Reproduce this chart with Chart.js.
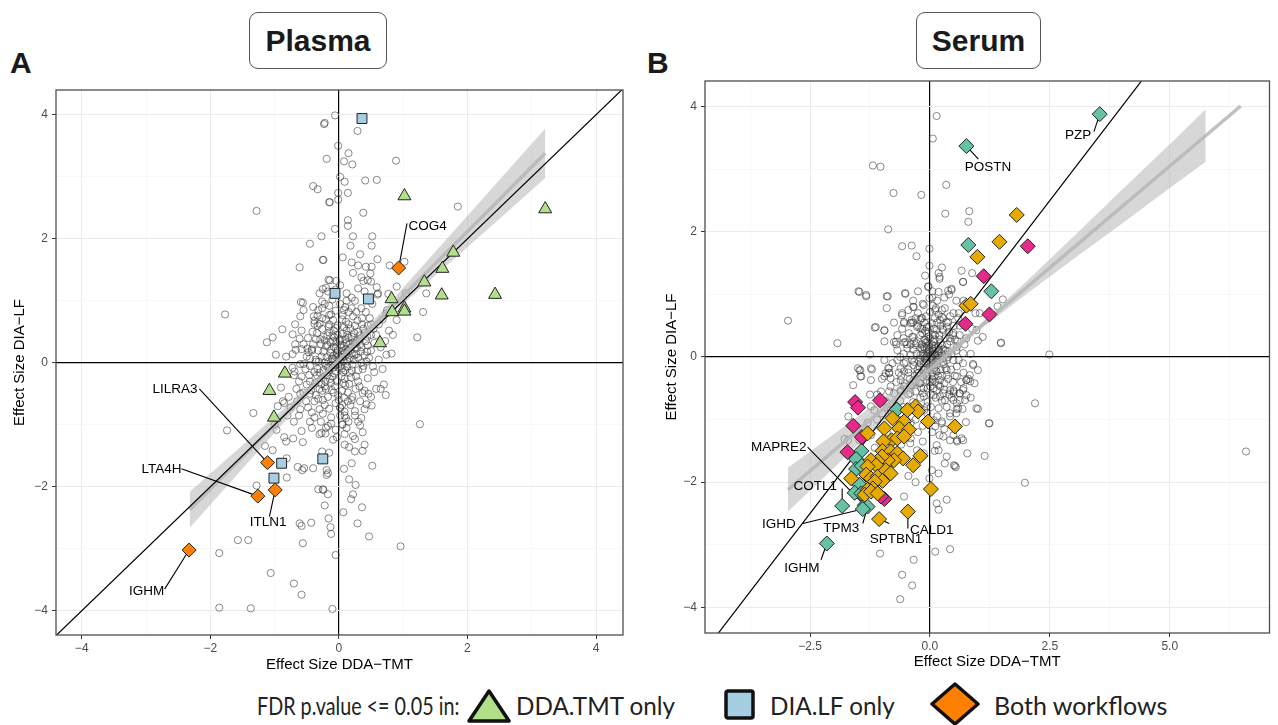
<!DOCTYPE html>
<html>
<head>
<meta charset="utf-8">
<script src="https://cdn.jsdelivr.net/npm/chart.js"></script>
<style>
  html, body { margin: 0; padding: 0; background: #fff; }
  body { width: 1278px; height: 725px; position: relative; overflow: hidden; font-family: "Liberation Sans", Arial, sans-serif; }
  canvas { position: absolute; }
  .tag { position: absolute; font-weight: bold; font-size: 30px; color: #1a1a1a; }
  .box { position: absolute; border: 1px solid #555; border-radius: 9px; font-weight: bold; font-size: 30px; color: #1a1a1a;
         display: flex; align-items: center; justify-content: center; box-sizing: border-box; background: #fff; }
  .leg { position: absolute; font-family: Lato, "Open Sans", sans-serif; font-size: 25px; color: #222; top: 690px; line-height: 30px;
         white-space: nowrap; transform-origin: 0 50%; }
  svg { position: absolute; }
</style>
</head>
<body>
<div class="tag" style="left:10px; top:46px;">A</div>
<div class="tag" style="left:647px; top:46px;">B</div>
<div class="box" style="left:249px; top:12px; width:138px; height:57px;">Plasma</div>
<div class="box" style="left:916px; top:12px; width:125px; height:57px;">Serum</div>

<canvas id="plasma" width="640" height="680" style="left:0; top:0;"></canvas>
<canvas id="serum" width="638" height="680" style="left:640px; top:0;"></canvas>

<div class="leg" style="left:257px; transform: scaleX(0.79);">FDR p.value &lt;= 0.05 in:</div>
<svg width="46" height="36" style="left:466px; top:688px;"><polygon points="23,3 43,33 3,33" fill="#B2DF8A" stroke="#111" stroke-width="3.5" stroke-linejoin="round"/></svg>
<div class="leg" style="left:516px; transform: scaleX(0.97);">DDA.TMT only</div>
<svg width="32" height="32" style="left:724px; top:689px;"><rect x="2" y="2" width="27" height="27" rx="2" fill="#A6CEE3" stroke="#111" stroke-width="3.5"/></svg>
<div class="leg" style="left:770px; transform: scaleX(0.97);">DIA.LF only</div>
<svg width="54" height="46" style="left:928px; top:681px;"><polygon points="27,3 50,23 27,43 4,23" fill="#FF7F00" stroke="#111" stroke-width="3.5" stroke-linejoin="round"/></svg>
<div class="leg" style="left:994px;">Both workflows</div>

<script>
// ---------- Plasma (panel A) ----------
const plasmaGrey = [
  [-0.23,3.85],[-0.19,3.29],[-0.40,2.85],[-0.33,2.80],[-1.28,2.45],[-0.15,2.59],[-0.27,2.04],[-0.45,1.92],[-0.25,1.66],[-0.61,1.54],
  [-0.16,1.34],[-0.25,1.19],[-0.20,1.21],[-0.59,0.98],[-0.56,0.97],[-0.26,0.99],[-0.26,0.88],[-1.77,0.78],[-0.39,0.75],[-0.33,0.76],
  [-0.38,0.63],[-0.30,0.63],[-0.15,0.77],[-0.88,0.54],[-0.72,0.46],[-0.61,0.39],[-1.12,0.33],[-1.03,0.41],[-0.98,0.13],[-0.72,0.14],
  [-0.67,0.21],[-0.58,0.22],[-0.49,0.23],[-0.42,0.20],[-0.60,-0.02],[-0.55,-0.02],[-0.69,-0.14],
  [-1.33,-0.81],[-1.74,-1.09],[-0.87,-0.62],[-0.97,-1.08],[-1.15,-1.34],[-1.03,-1.41],[-0.82,-1.27],[-0.71,-1.22],[-0.56,-1.28],
  [-1.28,-1.98],[-0.61,-2.59],[-0.58,-2.63],[-0.43,-2.58],[-1.57,-2.86],[-1.41,-2.86],[-1.86,-3.07],[-0.56,-2.91],[-1.06,-3.39],
  [-0.70,-3.56],[-0.58,-3.74],[-1.86,-3.95],[-1.37,-3.96],[-0.81,-1.54],[-0.64,-1.68],[-0.54,-1.70],[-0.40,-1.70],[-0.17,-1.78],
  [-0.22,-2.30],[-0.32,-2.04],[-0.25,-2.04],[-0.17,-2.12],[-0.81,-1.85],[-0.57,-1.73],
  [1.26,-0.99],[0.65,-0.42],[0.73,-0.52],[0.51,-0.69],[0.43,-0.67],[0.37,-0.49],[0.46,-0.50],[0.35,-0.89],[0.33,-1.01],[0.37,-1.12],
  [0.40,-1.32],[0.37,-1.42],[0.25,-1.23],[0.09,-1.15],[0.09,-1.32],[0.16,-1.36],[0.25,-1.43],[0.20,-1.62],[0.08,-1.71],[0.52,-1.66],
  [0.16,-1.88],[0.26,-1.97],[0.22,-2.12],[0.19,-2.20],[0.36,-2.33],[0.07,-2.41],[0.29,-2.59],[0.47,-2.80],[0.96,-2.96],[-0.05,-3.10],
  [-0.10,-3.97],[-0.12,-2.76],[-0.13,-2.65],[-0.16,-2.51],[-0.19,-1.81],[-0.19,-1.73],[-0.24,-2.05],[-0.15,-1.45],[-0.17,-1.02],
  [-0.27,-1.13],[-0.21,-1.14],[-0.09,-1.24],[-0.26,-1.43],[0.09,-0.85],[0.11,-0.89],[0.06,-0.99],[0.02,-0.73],
  [-0.06,3.99],[-0.22,3.87],[0.29,3.74],[-0.01,3.50],[0.08,3.25],[0.21,3.20],[0.15,3.38],[0.89,3.26],[0.02,3.00],[0.09,2.92],
  [0.41,2.94],[0.59,2.95],[-0.01,2.74],[0.14,2.74],[-0.14,2.59],[-0.01,2.63],[1.85,2.52],[0.38,2.42],[0.14,2.30],[0.14,2.21],
  [-0.06,2.16],[0.22,2.04],[0.52,2.04],[0.51,1.89],[0.18,1.89],[0.33,1.75],[0.06,1.70],[-0.24,1.66],[0.20,1.62],[0.30,1.57],
  [0.42,1.55],[0.51,1.55],[0.60,1.67],[0.79,1.57],[1.02,1.63],[0.49,1.44],[0.35,1.38],[0.22,1.45],[-0.14,1.33],[-0.04,1.32],
  [0.38,1.32],[0.45,1.33],[0.50,1.31],[0.59,1.22],[0.61,1.12],[0.77,1.11],[0.90,1.23],[1.04,1.12],[1.36,1.12],[1.31,0.82],
  [1.22,0.41],[0.84,0.45],[0.90,0.69],[0.74,0.80],[0.74,0.13],[0.53,-0.06],[0.43,0.02],
  [0.02,0.05],[-0.06,-0.03],[0.09,0.10],[-0.11,0.07],[0.05,-0.09],[-0.03,0.16],[0.14,0.02],[-0.15,-0.12],[0.11,0.22],[-0.08,0.26],
  [0.20,0.15],[-0.20,-0.05],[0.04,-0.22],[-0.13,0.33],[0.25,0.30],[-0.24,0.18],[0.17,-0.16],[-0.27,-0.25],[0.01,0.36],[0.30,0.08],
  [-0.33,-0.10],[0.07,-0.33],[-0.06,-0.38],[0.20,0.42],[-0.18,0.44],[0.35,0.25],[-0.36,0.05],[0.27,-0.22],[-0.30,-0.42],[0.12,0.52],
  [-0.02,0.60],[0.30,0.50],[-0.26,0.55],[0.42,0.35],[-0.45,-0.30],[0.14,-0.48],[-0.17,-0.55],[0.38,-0.05],[-0.42,0.22],[0.05,0.70],
  [-0.12,0.78],[0.22,0.75],[0.45,0.60],[-0.38,0.68],[0.50,0.20],[-0.52,-0.10],[0.32,-0.38],[-0.05,-0.65],[-0.38,-0.62],[0.18,-0.68],
  [-0.55,-0.48],[0.58,0.45],[0.10,0.90],[-0.22,0.95],[0.35,0.88],[-0.48,0.40],[0.62,0.05],[-0.62,-0.30],[0.45,-0.25],[-0.25,-0.82],
  [0.02,-0.85],[-0.60,-0.75],[-0.78,-0.55],[0.25,-0.85],[0.50,-0.55],[-0.10,1.02],[0.20,1.05],[0.52,0.95],[-0.40,0.90],[0.68,0.70],
  [-0.68,0.30],[0.72,0.35],[-0.72,-0.08],[-0.45,-0.95],[-0.12,-0.98],[0.12,-1.05],[-0.80,-0.85],[-0.95,-0.70],[0.40,-0.75],[0.70,-0.35],
  [-0.30,1.12],[0.02,1.25],[0.30,1.20],[-0.55,0.85],[0.60,1.10],[-0.82,0.10],[-0.90,-0.40],[0.82,0.15],[-0.58,-1.10],[-0.30,-1.15],
  [-0.03,-1.20],[0.22,-1.18],[-1.00,-1.00],[-0.85,-1.20],[-0.08,0.12],[0.07,-0.15],[-0.16,0.02],[0.16,0.30],[-0.21,-0.30],[0.00,-0.02],
  [0.10,0.38],[-0.10,-0.22],[0.23,0.05],[-0.02,0.45],[-0.28,0.30],[0.33,0.38],[-0.34,-0.20],[0.08,-0.56],[-0.22,-0.68],[0.25,0.60],
  [-0.08,0.52],[0.40,0.12],[-0.45,-0.05],[0.55,0.32],[-0.50,0.10],[0.15,0.62],[-0.15,0.62],[0.30,-0.12],[-0.36,-0.52],[-0.65,-0.62],
  [0.48,0.72],[0.15,0.82],[-0.28,-0.95],[-0.70,-0.95],[0.05,-0.68],
  [-0.04,0.09],[0.06,0.19],[-0.09,-0.08],[0.13,-0.06],[-0.19,0.09],[0.19,0.25],[-0.14,-0.26],[0.03,0.29],[-0.24,-0.12],[0.09,-0.26],
  [-0.07,0.41],[0.27,0.14],[-0.31,0.02],[0.16,-0.34],[-0.20,0.27],[0.34,0.18],[-0.11,-0.44],[0.24,0.48],[-0.29,0.38],[0.06,0.47],
  [-0.37,-0.33],[0.37,-0.10],[-0.01,-0.52],[0.21,-0.55],[-0.25,-0.60],[0.11,0.66],[-0.09,0.69],[0.29,0.68],[-0.33,0.60],[0.40,0.48],
  [-0.47,0.17],[0.47,0.08],[-0.43,-0.44],[0.33,-0.62],[-0.15,-0.74],[0.09,-0.79],[-0.51,-0.62],[0.54,0.55],[-0.05,0.84],[0.20,0.88],
  [-0.32,0.85],[0.42,0.82],[-0.58,0.52],[0.62,0.62],[-0.66,-0.42],[0.58,-0.42],[-0.38,-0.88],[0.30,-0.95],[-0.05,-1.08],[0.12,1.12],
  [-0.17,1.15],[0.40,1.15],[-0.75,-0.72],[-0.68,0.62],[0.78,0.52],[-0.10,0.06],[0.00,0.12],[0.07,0.03],[-0.05,-0.14],[0.12,0.14],
  [-0.18,-0.20],[0.21,-0.03],[-0.12,0.21],[0.04,0.24],[-0.27,0.10],[0.28,0.36],[-0.22,0.36],[0.15,0.40],[-0.04,0.33],[0.10,-0.12],
  [-0.15,0.49],[0.35,0.00],[-0.38,-0.15],[0.19,-0.24],[-0.03,-0.30],[0.05,-0.45],[-0.26,-0.45],[0.26,-0.42],[-0.46,-0.20],[0.45,0.28],
  [0.12,0.32],[-0.32,0.20],[0.08,0.58],[-0.20,0.70],[0.36,0.62],[-0.41,0.50],[0.50,0.45],[0.02,0.95],[-0.45,0.07],[-0.58,-0.22],
  [0.55,-0.15],[-0.22,-0.38],[0.00,-0.60],[-0.48,-0.72],[0.20,-0.60],[-0.30,-0.75],[0.40,-0.45],[-0.12,-0.88],[-0.62,-0.85],[0.15,-0.95],
  [-0.70,-0.20],[0.65,0.25],[0.25,1.00],[-0.05,1.18],[-0.42,-1.05],[-0.20,-1.05],[0.05,-1.00],[-0.85,-0.65],[0.75,0.85],[-0.60,0.75],
  [0.68,-0.10],
  [-0.02,0.20],[0.08,0.27],[-0.13,0.16],[0.17,0.08],[-0.07,-0.17],[0.03,-0.06],[-0.18,0.29],[0.22,0.33],[-0.09,0.35],[0.13,0.45],
  [-0.24,0.42],[0.28,0.24],[-0.30,-0.16],[0.20,-0.12],[-0.12,-0.32],[0.10,-0.36],[-0.20,-0.42],[0.32,0.44],[-0.04,0.56],[0.18,0.55],
  [-0.34,0.48],[0.38,0.55],[-0.16,0.58],[0.06,0.77],[-0.26,0.72],[0.27,0.82],[-0.08,-0.48],[0.14,-0.62],[-0.32,-0.58],[0.30,-0.30],
  [-0.40,0.30],[0.44,0.18],[-0.50,-0.35],[0.50,0.62],[-0.15,0.92],[0.12,1.00],[-0.60,-0.50],[0.02,-0.72],[-0.42,-0.80],[0.25,-0.78],
  [-0.07,0.04],[0.05,0.09],[-0.01,-0.06],[0.15,0.20],[-0.17,-0.07],[0.09,0.16],[-0.05,0.24],[0.24,0.12],[-0.22,0.00],[0.02,0.38],
  [-0.36,0.38],[0.44,0.42],[-0.10,0.44],[0.33,0.30],[-0.27,-0.34],[-0.45,-0.50],[0.36,0.72],[-0.35,0.02],[0.08,0.85],[-0.55,0.30]
];
const plasmaTMTonly = [[1.02,2.69],[3.21,2.48],[1.78,1.78],[1.61,1.52],[1.33,1.30],[1.60,1.09],[2.43,1.10],[0.82,1.03],
  [0.83,0.82],[1.02,0.88],[1.02,0.83],[0.64,0.32],[-0.84,-0.17],[-1.08,-0.45],[-1.01,-0.88]];
const plasmaLFonly = [[0.36,3.94],[-0.06,1.12],[0.46,1.03],[-0.89,-1.62],[-1.01,-1.86],[-0.25,-1.55]];
const plasmaBoth = [[0.93,1.53],[-1.11,-1.61],[-1.26,-2.15],[-0.99,-2.05],[-2.33,-3.02]];
const plasmaLabelNames = ["COG4", "LILRA3", "LTA4H", "ITLN1", "IGHM"];
const plasmaLabelText = [[1.38,2.21],[-2.55,-0.42],[-2.76,-1.71],[-1.10,-2.57],[-2.99,-3.68]];
const plasmaLabelFrom = [[1.06,2.25],[-2.17,-0.42],[-2.45,-1.71],[-1.08,-2.48],[-2.71,-3.65]];
const plasmaLabelTo = [[0.93,1.53],[-1.11,-1.61],[-1.26,-2.15],[-0.99,-2.05],[-2.33,-3.02]];
const plasmaFitX = [-2.32, -1.5, -0.75, 0, 0.75, 1.5, 2.3, 3.21];
const plasmaFitY = [-2.37, -1.52, -0.74, 0.04, 0.82, 1.60, 2.43, 3.38];
const plasmaFitLo = [-2.66, -1.71, -0.84, 0.00, 0.72, 1.41, 2.14, 2.98];
const plasmaFitHi = [-2.08, -1.33, -0.64, 0.08, 0.92, 1.79, 2.72, 3.78];

// ---------- Serum (panel B) ----------
const serumGrey = [
  [0.14,3.85],[0.06,3.49],[-1.19,3.06],[-1.03,3.04],[0.34,2.75],[-0.76,2.62],[-0.18,2.59],[0.32,2.29],[-0.87,2.04],[-0.58,1.77],
  [-0.38,1.78],[-0.28,1.61],[-0.01,1.73],[0.66,1.38],[0.69,1.20],[0.88,1.34],[-0.01,1.46],[0.25,1.43],[0.18,1.34],[0.20,1.28],
  [-1.49,1.05],[-1.33,0.97],[-0.90,0.97],[-0.52,1.02],[-0.90,0.78],[-0.35,0.80],[-0.04,1.12],[-0.01,0.94],[0.18,1.04],[0.38,1.06],
  [0.45,1.09],[-2.96,0.58],[-1.93,0.22],[-1.25,0.04],[-1.15,0.47],[-0.95,0.42],[-0.58,0.67],[-0.38,0.59],[-0.54,0.54],[-0.35,0.55],
  [-0.16,0.62],[-0.75,0.24],[-0.54,0.23],[-0.35,0.32],[-0.20,0.46],[-1.45,-0.21],[-1.45,-0.31],[-1.21,-0.20],[-0.87,-0.18],[-0.85,-0.26],
  [0.82,2.33],[0.80,2.16],[1.52,0.92],[1.41,0.81],[1.48,0.22],[1.04,0.70],[1.00,0.26],[2.49,0.04],[0.45,1.07],
  [-1.78,-1.31],[-1.47,-1.33],[-1.16,-0.85],[-0.92,-0.71],[-0.75,-0.58],[-0.61,-0.53],[-0.41,-0.58],[-0.82,-0.85],[-0.54,-2.23],
  [0.14,-2.34],[0.35,-2.28],[0.18,-2.44],[0.11,-3.11],[0.42,-3.07],[-0.34,-3.24],[-0.58,-3.48],[-0.37,-3.65],[-0.62,-3.87],[-1.04,-3.14],
  [-0.01,-1.94],[0.14,-1.41],[0.28,-1.27],[0.42,-1.33],[0.56,-1.33],[0.66,-1.30],[0.52,-1.74],[0.35,-1.59],[0.18,-1.49],[0.11,-1.11],
  [0.25,-1.03],[0.42,-0.90],[0.59,-0.82],[0.73,-0.69],[-0.06,-0.79],[0.21,-0.63],[0.49,-0.58],[0.69,-0.53],[-1.23,-1.25],
  [2.19,-0.74],[1.23,-1.06],[1.00,-0.83],[6.59,-1.51],[1.98,-2.01],[1.14,-1.58],[0.78,-1.54],[0.50,-1.73],[0.54,-1.76],[0.75,-1.04],
  [0.69,-1.33],[0.57,-1.35],[0.56,-0.83],[0.68,-0.83],[0.84,-0.39],[0.83,-0.29],[1.00,-0.21],[0.90,-0.11],[0.76,-0.37],[0.62,-0.58],
  [0.62,-0.69],[0.49,-0.69],[0.49,-0.53],
  [-1.47,1.04],[-1.33,0.99],[-0.88,0.97],[-0.51,1.01],[-0.03,1.13],[0.69,1.20],[-0.34,0.80],[-0.13,0.83],[0.11,0.75],[0.31,0.78],
  [0.49,0.70],[0.59,0.62],[0.38,0.56],[0.25,0.64],[-0.58,0.70],[-0.41,0.54],[-0.20,0.59],[-0.54,0.56],[-1.13,0.48],[-0.95,0.43],
  [-0.71,0.24],[-0.51,0.24],[-0.30,0.19],[-0.10,0.27],[0.11,0.35],[0.28,0.43],[0.49,0.38],[0.76,0.30],[0.97,0.43],[1.10,0.32],[1.48,0.23],
  [-0.68,-0.05],[-0.54,-0.10],[-0.34,-0.13],[-0.13,-0.10],[0.08,-0.10],[0.28,-0.08],[0.49,-0.05],[0.69,-0.10],[0.90,-0.13],[-0.27,-0.26],
  [-0.06,-0.31],[0.14,-0.23],[0.35,-0.29],[0.56,-0.31],[0.76,-0.37],[0.93,-0.42],[-0.85,-0.18],[-0.82,-0.34],[-0.61,-0.37],[-0.41,-0.45],
  [-0.20,-0.42],[0.01,-0.47],[0.21,-0.47],[0.42,-0.53],[0.62,-0.58],[-0.13,-0.63],[0.08,-0.61],[0.31,-0.69],[0.56,-0.74],[0.18,-0.82],
  [-0.06,-0.90],[0.76,-0.61],[0.97,-0.82],[1.24,-1.06],[0.42,-0.95],[0.25,-1.06],[0.08,-1.01],[-1.23,-0.18],[-1.47,-0.21],[-1.43,-0.31],
  [-0.95,-0.31],[-0.13,0.16],[-0.03,0.11],[0.04,0.06],[0.11,0.14],[0.18,0.09],[-0.06,0.01],[-0.20,0.03],[0.21,0.01],[0.01,-0.15],
  [0.14,-0.05],[-0.10,-0.18],[-0.23,-0.07],[0.32,0.11],[0.25,0.19],[0.08,0.24],[-0.03,0.32],[0.14,0.43],[0.04,0.54],[0.21,0.59],
  [0.35,0.48],[0.42,0.30],[0.56,0.16],[0.38,0.09],[-0.40,0.03],[-0.47,0.14],[-0.37,0.32],[-0.16,0.38],[0.08,-0.31],[0.21,-0.37],
  [0.04,-0.39],[-0.13,-0.50],[0.14,-0.53],[0.28,-0.58],[0.35,-0.21],[0.56,-0.15],[0.69,0.06],[-0.54,-0.23],[-0.68,0.11],[-0.27,0.48],
  [-0.06,0.48],[-1.50,-0.18],[-1.23,-0.37],[-0.92,-0.26],[-0.61,-0.18],[-0.34,-0.37],[-0.54,-0.47],[-0.82,-0.47],[-1.02,-0.55],[-1.23,-0.79],
  [-1.71,-1.33],[-0.75,-1.43],[-0.41,-1.38],[-0.27,-1.49],[-0.13,-1.54],[0.49,-1.25],[0.31,-1.70],[0.04,-1.81],[0.18,-1.86],
  [0.02,0.02],[-0.05,0.08],[0.06,-0.05],[-0.10,-0.02],[0.10,0.05],[-0.03,-0.12],[0.04,0.20],[-0.16,0.12],[0.16,-0.02],[-0.08,-0.25],
  [0.12,-0.22],[-0.22,-0.15],[0.22,0.22],[-0.28,0.05],[0.28,0.12],[0.00,0.30],[-0.12,0.28],[0.05,-0.35],[-0.32,-0.30],[0.38,0.00],
  [-0.40,0.20],[0.33,-0.18],[0.18,-0.45],[-0.18,-0.50],[0.10,0.62],[-0.25,0.50],[0.42,0.25],[-0.45,-0.20],[-0.05,-0.72],[0.25,-0.70],
  [-0.35,-0.72],[0.48,-0.40],[-0.55,0.05],[0.55,0.10],[0.00,0.72],[-0.60,-0.55],[0.35,0.55],[-0.15,0.85],[0.15,0.90],[0.62,0.50],
  [-0.70,0.20],[-0.65,-0.25],[0.70,-0.25],[-0.30,-1.00],[0.30,-1.15],[-0.50,-1.00],[0.05,-1.20],[-0.85,-0.55],[-0.75,0.55],[0.20,1.25],
  [-0.10,1.30],[0.40,1.00],[-0.45,0.75],[0.85,0.05],[-0.95,-0.05],[-0.90,-0.80],[0.85,-0.65],[-0.15,-1.35],[0.10,-1.50],[-0.40,-1.30],
  [0.55,0.90],[-0.25,1.05],[0.05,1.05],[-0.55,-0.80],[-0.02,0.48],[0.08,-0.50],[-0.20,0.35],[0.25,-0.30],[0.48,0.35],[-0.38,-0.45],
  [-0.03,0.05],[0.07,0.10],[-0.07,-0.06],[0.12,-0.08],[-0.14,0.05],[0.03,-0.09],[0.17,0.17],[-0.19,-0.10],[0.09,0.28],[-0.09,0.23],
  [0.24,0.06],[-0.26,-0.20],[0.05,-0.26],[-0.15,-0.32],[0.29,-0.12],[0.19,0.35],[-0.35,0.12],[0.36,0.20],[-0.28,0.22],[-0.03,0.40],
  [0.26,0.45],[-0.22,-0.42],[0.11,-0.40],[0.38,-0.35],[-0.42,-0.35],[-0.05,-0.50],[0.45,0.05],[-0.50,-0.08],[0.15,0.55],[-0.12,0.55],
  [0.30,-0.52],[-0.30,-0.55],[0.52,0.28],[-0.55,0.30],[0.06,0.82],[-0.20,-0.65],[0.02,-0.80],[0.42,0.65],[-0.38,0.55],[0.60,-0.05],
  [-0.62,0.00],[0.25,0.75],[-0.08,0.65],[0.50,-0.55],[-0.45,-0.60],[-0.70,-0.40],[0.72,0.20],[-0.25,0.70],[0.12,-0.65],[-0.12,-0.85],
  [0.35,-0.80],[-0.58,0.45],[0.62,0.35],[0.30,0.95],[-0.35,0.90],[-0.78,-0.10],[0.80,-0.35],[-0.60,-0.90],[0.55,-0.90],[-0.15,-1.10],
  [0.20,-1.25],[-1.00,-0.35],[-1.10,-0.60],[-0.95,0.25],[0.95,0.70],[0.70,0.90],[-0.02,0.18],[0.16,0.03],[-0.11,0.14],[0.09,-0.18],
  [-0.20,-0.02],[0.22,-0.20],[-0.06,-0.38],[0.32,0.30],[-0.33,-0.08],[-0.16,0.45],[0.44,-0.20],[-0.44,0.38],[0.18,0.68],[-0.28,-0.82],
  [0.45,-0.65],[-0.52,-0.42],[0.05,0.95],[-0.62,-0.70],[0.70,-0.50],[-0.85,-0.25],[0.88,0.45],
  [-1.10,-1.00],[-0.90,-1.20],[-1.30,-1.05],[-0.70,-1.10],[-0.60,-1.40],[-1.15,-1.45],[-0.85,-1.70],[-0.45,-1.90],[-0.30,-2.00],
  [-1.55,-1.10],[-1.70,-0.95],[-1.25,-0.60],[-1.60,-0.45],[-1.00,-0.90],[-0.40,-1.05],[-0.25,-1.20],
  [-0.01,0.12],[0.10,0.18],[-0.12,0.02],[0.14,-0.13],[-0.08,-0.10],[0.05,0.14],[-0.17,0.20],[0.20,0.28],[-0.23,-0.25],[0.27,-0.02],
  [-0.04,-0.20],[0.07,0.36],[-0.20,0.15],[0.32,0.04],[-0.30,-0.40],[0.17,-0.30],[-0.10,0.42],[0.40,0.40],[-0.38,-0.05],[0.22,0.50],
  [0.02,-0.60],[-0.15,-0.58],[0.30,-0.42],[0.50,0.50],[-0.48,0.20],[0.12,0.78],[-0.30,0.62],[0.58,0.25],[-0.60,-0.30],[0.40,-0.60],
  [-0.25,-0.90],[0.15,-0.95],[-0.05,0.25],[0.03,-0.02],[-0.07,0.15],[0.12,0.02],[-0.14,-0.20],[0.18,0.12],[0.00,-0.40],[-0.33,0.25],
  [0.35,-0.05],[0.28,0.62],[-0.45,-0.25],[0.52,-0.30],[0.08,0.45],[-0.18,0.62],[0.60,0.70],[-0.68,0.35],[0.65,-0.40],[-0.40,-0.85]
];
const serumTeal = [[3.54,3.88],[0.76,3.37],[0.80,1.79],[1.28,1.05],[-0.69,-0.84],[-1.43,-1.50],[-1.54,-1.63],[-1.54,-1.79],
  [-1.42,-1.74],[-1.47,-2.04],[-1.57,-2.17],[-1.43,-2.18],[-1.83,-2.38],[-1.36,-2.37],[-1.30,-2.39],[-1.40,-2.43],[-2.15,-2.98]];
const serumGold = [[1.81,2.27],[1.45,1.84],[0.99,1.60],[0.76,0.82],[0.85,0.85],
  [-0.30,-0.79],[-0.25,-0.87],[-0.47,-0.85],[-0.78,-0.98],[-0.54,-1.03],[-0.64,-1.14],[-0.44,-1.16],[-0.95,-1.14],[-1.30,-1.22],
  [-0.80,-1.33],[-0.68,-1.30],[-0.54,-1.27],[-0.97,-1.35],[-0.99,-1.50],[-0.82,-1.51],[-0.68,-1.54],[-0.56,-1.62],[-0.75,-1.65],
  [-0.88,-1.65],[-1.00,-1.59],[-1.09,-1.66],[-1.23,-1.65],[-1.12,-1.73],[-1.30,-1.75],[-1.33,-1.88],[-1.23,-1.94],[-1.09,-1.91],
  [-0.92,-1.81],[-0.82,-1.86],[-0.99,-1.98],[-1.15,-1.99],[-1.19,-2.10],[-1.30,-2.12],[-1.36,-2.20],[-1.23,-2.15],[-1.09,-2.18],
  [-1.64,-1.94],[-1.06,-2.59],[-0.46,-2.47],[0.02,-2.11],[-0.04,-1.03],[0.52,-1.11],[-0.20,-1.58],[-0.35,-1.73]];
const serumMagenta = [[2.04,1.77],[1.12,1.29],[1.24,0.68],[0.74,0.53],[-1.56,-0.72],[-1.50,-0.81],[-1.04,-0.69],[-1.60,-1.10],
  [-1.42,-1.28],[-1.72,-1.52],[-0.95,-2.27],[-1.02,-2.23]];
const serumLabelNames = ["PZP", "POSTN", "MAPRE2", "COTL1", "IGHD", "TPM3", "SPTBN1", "CALD1", "IGHM"];
const serumLabelText = [[3.09,3.55],[1.21,3.03],[-3.15,-1.44],[-2.39,-2.06],[-3.15,-2.67],[-1.85,-2.74],[-0.71,-2.92],[0.04,-2.77],[-2.67,-3.38]];
const serumLabelFrom = [[3.42,3.60],[1.01,3.16],[-2.55,-1.44],[-1.83,-2.10],[-2.65,-2.66],[-1.40,-2.66],[-0.85,-2.66],[-0.46,-2.74],[-2.27,-3.24]];
const serumLabelTo = [[3.54,3.88],[0.76,3.37],[-1.36,-2.37],[-1.83,-2.38],[-1.40,-2.43],[-1.30,-2.39],[-1.06,-2.59],[-0.46,-2.47],[-2.15,-2.98]];
const serumFitX = [-2.96, -2, -1, 0, 1, 2, 3, 4, 5, 5.75];
const serumFitY = [-2.12, -1.50, -0.85, -0.20, 0.45, 1.10, 1.75, 2.40, 3.05, 3.54];
const serumFitLo = [-2.47, -1.77, -1.03, -0.30, 0.41, 1.00, 1.57, 2.13, 2.70, 3.12];
const serumFitHi = [-1.77, -1.23, -0.67, -0.10, 0.49, 1.20, 1.93, 2.67, 3.40, 3.96];
const serumLineX = [-2.96, 6.48];
const serumLineY = [-2.12, 4.01];

const identity = [-6, 8];

// ---------- helpers ----------
const FONT = '"Liberation Sans", Arial, sans-serif';
const pts = arr => arr.map(p => ({x: p[0], y: p[1]}));
const xy = (xs, ys) => xs.map((v, i) => ({x: v, y: ys[i]}));
const minus = s => String(s).replace('-', '\u2212');

const panelDecor = {
  id: 'panelDecor',
  afterDatasetsDraw(chart, args, opts) {
    const {ctx, chartArea: a, scales: {x, y}} = chart;
    ctx.save();
    ctx.strokeStyle = '#4d4d4d';
    ctx.lineWidth = 1.3;
    ctx.strokeRect(a.left, a.top, a.width, a.height);
    ctx.font = '13.5px ' + FONT;
    ctx.fillStyle = '#000';
    ctx.textAlign = 'center';
    ctx.textBaseline = 'middle';
    opts.names.forEach((n, i) => {
      ctx.fillText(n, x.getPixelForValue(opts.pos[i][0]), y.getPixelForValue(opts.pos[i][1]));
    });
    ctx.restore();
  }
};

function axis(min, max, step, major, fmt, title, isX, size, titlePad) {
  const isMajor = v => Math.abs(v / major - Math.round(v / major)) < 1e-6;
  return {
    type: 'linear', min, max,
    afterFit: s => { if (isX) s.height = size; else s.width = size; },
    ticks: {
      stepSize: step, includeBounds: false, padding: isX ? 2 : 4,
      color: '#4d4d4d', font: {family: FONT, size: 12},
      callback: v => isMajor(v) ? minus(fmt(v)) : ''
    },
    grid: {
      color: c => Math.abs(c.tick.value) < 1e-9 ? '#000' : (isMajor(c.tick.value) ? '#ebebeb' : '#f3f3f3'),
      lineWidth: c => Math.abs(c.tick.value) < 1e-9 ? 1.2 : (isMajor(c.tick.value) ? 1 : 0.6),
      tickColor: c => isMajor(c.tick.value) ? '#333' : 'rgba(0,0,0,0)',
      tickLength: 4, tickWidth: 1
    },
    border: {display: false},
    title: {display: true, text: title, color: '#000', font: {family: FONT, size: 15}, padding: titlePad}
  };
}

function buildChart(id, cfg) {
  const ds = [];
  ds.push({type: 'line', data: xy(cfg.fitX, cfg.fitLo), borderWidth: 0, pointRadius: 0, fill: false, order: 9});
  ds.push({type: 'line', data: xy(cfg.fitX, cfg.fitHi), borderWidth: 0, pointRadius: 0,
           fill: '-1', backgroundColor: 'rgba(175,175,175,0.5)', order: 9});
  ds.push({type: 'scatter', data: pts(cfg.grey), pointStyle: 'circle', pointRadius: 3.6,
           borderColor: 'rgba(55,55,55,0.58)', backgroundColor: 'rgba(0,0,0,0)', borderWidth: 1, order: 10});
  ds.push({type: 'line', data: xy(cfg.lineX, cfg.lineY), borderColor: 'rgba(185,185,185,0.9)', borderWidth: 3.5,
           pointRadius: 0, fill: false, order: 8});
  ds.push({type: 'line', data: xy(identity, identity), borderColor: '#000', borderWidth: 1.2, pointRadius: 0, fill: false, order: 7});
  cfg.from.forEach((f, i) => {
    ds.push({type: 'line', data: pts([f, cfg.to[i]]), borderColor: '#000', borderWidth: 1.1, pointRadius: 0, fill: false, order: 6});
  });
  cfg.groups.forEach(g => {
    ds.push({type: 'scatter', data: pts(g.data), pointStyle: g.style, pointRadius: g.r, backgroundColor: g.color,
             borderColor: '#222', borderWidth: 1, order: 5});
  });
  return new Chart(document.getElementById(id), {
    type: 'scatter',
    data: {datasets: ds},
    options: {
      responsive: false, animation: false, events: [],
      layout: {padding: cfg.padding},
      plugins: {legend: {display: false}, tooltip: {enabled: false},
                panelDecor: {names: cfg.names, pos: cfg.textPos}},
      scales: {x: cfg.x, y: cfg.y}
    },
    plugins: [panelDecor]
  });
}

buildChart('plasma', {
  grey: plasmaGrey, fitX: plasmaFitX, fitLo: plasmaFitLo, fitHi: plasmaFitHi,
  lineX: plasmaFitX, lineY: plasmaFitY,
  from: plasmaLabelFrom, to: plasmaLabelTo, names: plasmaLabelNames, textPos: plasmaLabelText,
  groups: [
    {data: plasmaTMTonly, style: 'triangle', r: 7.5, color: '#B2DF8A'},
    {data: plasmaLFonly, style: 'rect', r: 7, color: '#A6CEE3'},
    {data: plasmaBoth, style: 'rectRot', r: 7, color: '#FF7F00'}
  ],
  padding: {left: 0, top: 90, right: 17, bottom: 0},
  x: axis(-4.4, 4.42, 1, 2, v => v, 'Effect Size DDA\u2212TMT', true, 45, {top: 2, bottom: 6}),
  y: axis(-4.39, 4.40, 1, 2, v => v, 'Effect Size DIA\u2212LF', false, 56, {top: 11, bottom: 2})
});

buildChart('serum', {
  grey: serumGrey, fitX: serumFitX, fitLo: serumFitLo, fitHi: serumFitHi,
  lineX: serumLineX, lineY: serumLineY,
  from: serumLabelFrom, to: serumLabelTo, names: serumLabelNames, textPos: serumLabelText,
  groups: [
    {data: serumGold, style: 'rectRot', r: 7.5, color: '#E6AB02'},
    {data: serumMagenta, style: 'rectRot', r: 7.5, color: '#E7298A'},
    {data: serumTeal, style: 'rectRot', r: 7.5, color: '#66C2A5'}
  ],
  padding: {left: 0, top: 81, right: 1, bottom: 0},
  x: axis(-4.69, 7.08, 1.25, 2.5, v => v.toFixed(1), 'Effect Size DDA\u2212TMT', true, 47, {top: 2, bottom: 9}),
  y: axis(-4.41, 4.41, 1, 2, v => v, 'Effect Size DIA\u2212LF', false, 65, {top: 23, bottom: 2})
});
</script>
</body>
</html>
